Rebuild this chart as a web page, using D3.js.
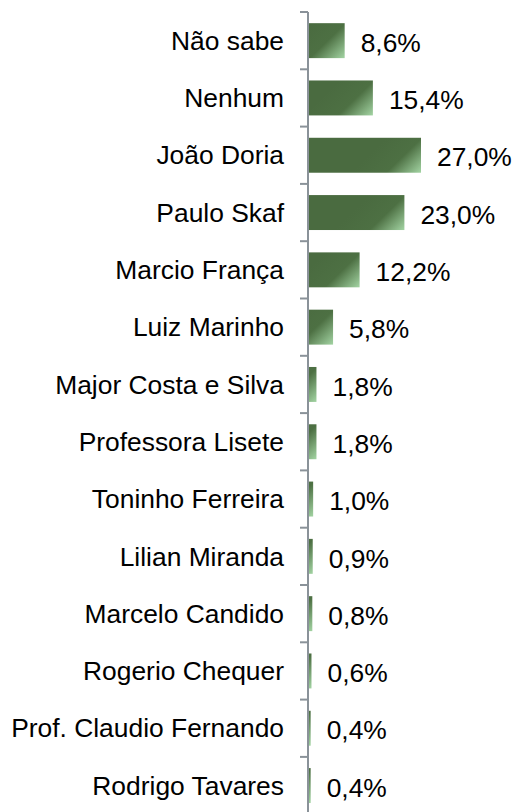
<!DOCTYPE html>
<html>
<head>
<meta charset="utf-8">
<script src="https://cdn.jsdelivr.net/npm/d3@7"></script>
<style>
  body { margin: 0; background: #fff; }
  text { font-family: "Liberation Sans", Arial, sans-serif; fill: #000; }
</style>
</head>
<body>
<div id="chart"></div>
<script>
      var categories = ["Não sabe", "Nenhum", "João Doria", "Paulo Skaf", "Marcio França",
                        "Luiz Marinho", "Major Costa e Silva", "Professora Lisete", "Toninho Ferreira",
                        "Lilian Miranda", "Marcelo Candido", "Rogerio Chequer",
                        "Prof. Claudio Fernando", "Rodrigo Tavares"];
      var values = [8.6, 15.4, 27.0, 23.0, 12.2, 5.8, 1.8, 1.8, 1.0, 0.9, 0.8, 0.6, 0.4, 0.4];

      var width = 514, height = 812;
      var axisX = 308;

      var svg = d3.select("#chart").append("svg")
          .attr("width", width)
          .attr("height", height);

      var xScale = d3.scaleLinear()
          .domain([0, 27])
          .range([axisX + 1, axisX + 113]);

      var yScale = d3.scaleBand()
          .domain(categories)
          .range([12, 12 + 14 * 57.3])
          .paddingInner(0.39)
          .paddingOuter(0.195);

      var step = yScale.step();
      var y0 = 12;

      // gradient per bar, fixed size at the bar's right end
      var defs = svg.append("defs");
      categories.forEach(function(c, i) {
        var xe = xScale(values[i]);
        var yt = yScale(c);
        var g = defs.append("linearGradient")
            .attr("id", "grad" + i)
            .attr("gradientUnits", "userSpaceOnUse")
            .attr("x1", xe - 34).attr("y1", yt)
            .attr("x2", xe).attr("y2", yt + yScale.bandwidth());
        g.append("stop").attr("offset", "0").attr("stop-color", "#4a6b40");
        g.append("stop").attr("offset", "0.5").attr("stop-color", "#4d7043");
        g.append("stop").attr("offset", "1").attr("stop-color", "#a3d4a3");
      });

      // bars
      svg.append("g")
          .selectAll("rect")
          .data(values)
          .enter()
          .append("rect")
          .attr("x", xScale(0))
          .attr("y", function(d, i) { return yScale(categories[i]); })
          .attr("width", function(d) { return xScale(d) - xScale(0); })
          .attr("height", yScale.bandwidth())
          .attr("fill", function(d, i) { return "url(#grad" + i + ")"; });

      // axis line and ticks
      var axis = svg.append("g").attr("stroke", "#8a9299").attr("stroke-width", 2);
      axis.append("line")
          .attr("x1", axisX).attr("x2", axisX)
          .attr("y1", y0).attr("y2", height);
      d3.range(categories.length + 1).forEach(function(i) {
        axis.append("line")
            .attr("x1", axisX - 8).attr("x2", axisX)
            .attr("y1", y0 + i * step).attr("y2", y0 + i * step);
      });

      // category labels
      svg.append("g")
          .selectAll("text")
          .data(categories)
          .enter()
          .append("text")
          .attr("x", 284)
          .attr("y", function(d) { return yScale(d) + yScale.bandwidth() / 2; })
          .attr("dy", "0.35em")
          .attr("text-anchor", "end")
          .style("font-size", "26.4px")
          .text(function(d) { return d; });

      // value labels
      svg.append("g")
          .selectAll("text")
          .data(values)
          .enter()
          .append("text")
          .attr("x", function(d) { return xScale(d) + 16; })
          .attr("y", function(d, i) { return yScale(categories[i]) + yScale.bandwidth() / 2 + 2; })
          .attr("dy", "0.35em")
          .style("font-size", "26.4px")
          .text(function(d) { return d.toFixed(1).replace(".", ",") + "%"; });
</script>
</body>
</html>
